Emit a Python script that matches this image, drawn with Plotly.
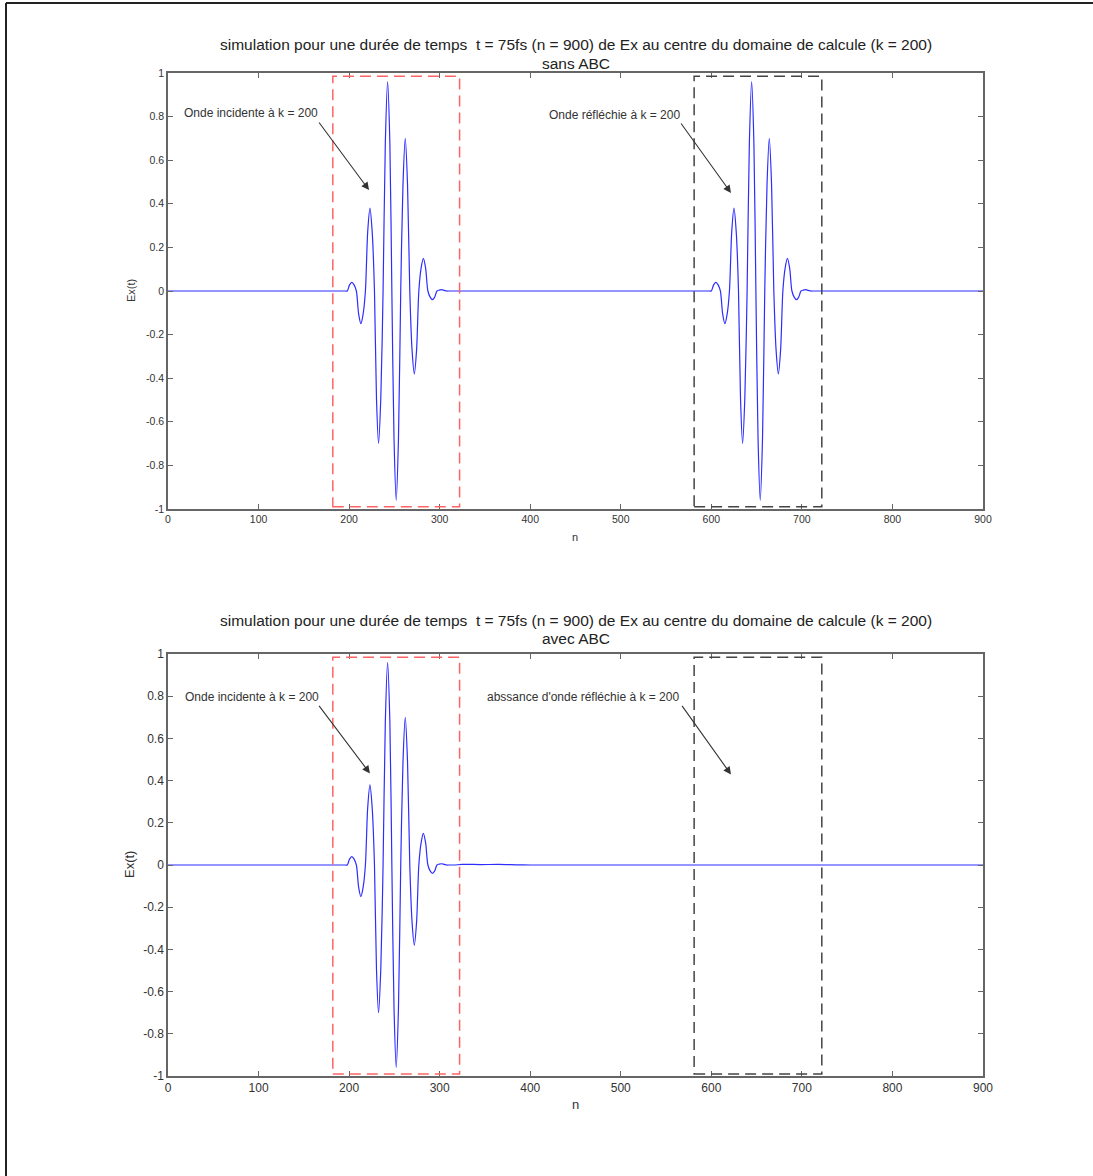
import plotly.graph_objects as go

W, H = 1093, 1176

# ---- data -------------------------------------------------------------
# incident pulse seen at k = 200 (same in both runs)
inc_n = [190, 196, 198, 200.5, 203, 205.5, 208, 210.5, 213, 215.5, 218, 220.5, 223, 225.5,
         228, 230.2, 232.5, 235, 237.5, 240, 242.5, 245, 247.2, 249.6, 252, 254.5,
         257, 259.5, 262, 264.5, 267, 269.5, 272, 274.5, 277, 279.5, 282, 284.5,
         287, 289.5, 292, 294.5, 297, 299.5, 302, 305, 308, 311, 316]
inc_ex = [0, 0, 0, 0.028, 0.04, 0.028, 0, -0.105, -0.15, -0.105, 0, 0.27, 0.38, 0.27,
          0, -0.49, -0.70, -0.49, 0, 0.68, 0.96, 0.68, 0, -0.68, -0.96, -0.68,
          0, 0.49, 0.70, 0.49, 0, -0.27, -0.38, -0.27, 0, 0.105, 0.15, 0.105,
          0, -0.028, -0.04, -0.028, 0, 0.004, 0.006, 0.003, 0, 0, 0]

# pulse reflected back from the grid edge (run without ABC)
refl_n = [592, 598, 600, 602.5, 605, 607.5, 610, 612.5, 615, 617.5, 620, 622.5, 625, 627.5,
          630, 632.2, 634.5, 637, 639.5, 642, 644.5, 647, 649.2, 651.6, 654, 656.5,
          659, 661.5, 664, 666.5, 669, 671.5, 674, 676.5, 679, 681.5, 684, 686.5,
          689, 691.5, 694, 696.5, 699, 701.5, 704, 707, 710, 713, 718]
refl_ex = [0, 0, 0, 0.028, 0.04, 0.028, 0, -0.105, -0.15, -0.105, 0, 0.27, 0.38, 0.27,
           0, -0.49, -0.70, -0.49, 0, 0.68, 0.96, 0.68, 0, -0.68, -0.96, -0.68,
           0, 0.49, 0.70, 0.49, 0, -0.27, -0.38, -0.27, 0, 0.105, 0.15, 0.105,
           0, -0.028, -0.04, -0.028, 0, 0.004, 0.006, 0.003, 0, 0, 0]

# small residue left behind with the absorbing boundary
res_n = [325, 345, 365, 385, 400, 410]
res_ex = [0.003, 0.002, 0.003, 0.001, 0, 0]

n_sans = [0] + inc_n + refl_n + [900]
ex_sans = [0] + inc_ex + refl_ex + [0]
n_avec = [0] + inc_n + res_n + [900]
ex_avec = [0] + inc_ex + res_ex + [0]

x_ticks = [0, 100, 200, 300, 400, 500, 600, 700, 800, 900]
y_ticks = [-1, -0.8, -0.6, -0.4, -0.2, 0, 0.2, 0.4, 0.6, 0.8, 1]
y_ticktext = ["-1", "-0.8", "-0.6", "-0.4", "-0.2", "0", "0.2", "0.4", "0.6", "0.8", "1"]

title_main = ("simulation pour une durée de temps  t = 75fs (n = 900) de Ex au "
              "centre du domaine de calcule (k = 200)")
subtitles = ["sans ABC", "avec ABC"]
label_inc = "Onde incidente à k = 200"
label_refl = ["Onde réfléchie à k = 200", "abssance d'onde réfléchie à k = 200"]

# ---- figure -----------------------------------------------------------
FONT = "Liberation Sans, Arial, sans-serif"
BLUE = "rgb(45,45,255)"
AXC = "#666666"


def px(x):
    return x / W


def py(y):
    return 1 - y / H


fig = go.Figure()
fig.add_trace(go.Scatter(x=n_sans, y=ex_sans, mode="lines", xaxis="x", yaxis="y",
                         line=dict(color=BLUE, width=1.2, shape="spline", smoothing=0.8),
                         showlegend=False))
fig.add_trace(go.Scatter(x=n_avec, y=ex_avec, mode="lines", xaxis="x2", yaxis="y2",
                         line=dict(color=BLUE, width=1.2, shape="spline", smoothing=0.8),
                         showlegend=False))

panels = [
    dict(top=73, bot=509, tick=10.5, lab=11),
    dict(top=654, bot=1076, tick=12, lab=13),
]

axis_common = dict(showline=True, linecolor=AXC, linewidth=1.5, mirror="allticks",
                   ticks="inside", ticklen=5, tickcolor=AXC, tickwidth=1,
                   showgrid=False, zeroline=False, automargin=False)

xdom = [px(168), px(983)]
layout = dict(
    template="none",
    width=W, height=H, autosize=False, margin=dict(l=0, r=0, t=0, b=0, pad=0),
    paper_bgcolor="white", plot_bgcolor="white",
    font=dict(family=FONT, color="#333333"),
    showlegend=False,
)
for i, p in enumerate(panels):
    sx = "" if i == 0 else "2"
    layout["xaxis" + sx] = dict(axis_common, domain=xdom, range=[0, 900],
                                tickvals=x_ticks, ticktext=[str(v) for v in x_ticks],
                                tickfont=dict(size=p["tick"], color="#333333"),
                                anchor="y" + sx)
    layout["yaxis" + sx] = dict(axis_common, domain=[py(p["bot"]), py(p["top"])],
                                range=[-1, 1], tickvals=y_ticks, ticktext=y_ticktext,
                                tickfont=dict(size=p["tick"], color="#333333"),
                                anchor="x" + sx)
fig.update_layout(**layout)

annotations = []
shapes = []

# outer frame of the page (top and left edges)
shapes.append(dict(type="line", xref="paper", yref="paper", x0=px(6), x1=1,
                   y0=py(3), y1=py(3), line=dict(color="#222222", width=2)))
shapes.append(dict(type="line", xref="paper", yref="paper", x0=px(6), x1=px(6),
                   y0=0, y1=py(3), line=dict(color="#222222", width=2)))

title_y = [(45, 63), (620, 638)]
xlabel_y = [537, 1104]
ylabel_x = [131, 129]
arrow_geo = [
    dict(t1=(15.5, 0.817), a1=((165.6, 0.78), (222, 0.463)),
         t2=(418.5, 0.807), a2=((565.4, 0.775), (621.7, 0.45))),
    dict(t1=(16.6, 0.794), a1=((165.6, 0.761), (223, 0.434)),
         t2=(350, 0.794), a2=((566.5, 0.761), (621.7, 0.429))),
]

for i, p in enumerate(panels):
    sx = "" if i == 0 else "2"
    xr, yr = "x" + sx, "y" + sx
    mid = (p["top"] + p["bot"]) / 2
    # titles
    annotations.append(dict(xref="paper", yref="paper", x=px(575.5), y=py(title_y[i][0]),
                            text=title_main, showarrow=False, xanchor="center",
                            yanchor="middle", font=dict(size=15.5, color="#222222")))
    annotations.append(dict(xref="paper", yref="paper", x=px(575.5), y=py(title_y[i][1]),
                            text=subtitles[i], showarrow=False, xanchor="center",
                            yanchor="middle", font=dict(size=15.5, color="#222222")))
    # axis labels
    annotations.append(dict(xref="paper", yref="paper", x=px(575), y=py(xlabel_y[i]),
                            text="n", showarrow=False, xanchor="center", yanchor="middle",
                            font=dict(size=p["lab"], color="#333333")))
    annotations.append(dict(xref="paper", yref="paper", x=px(ylabel_x[i]), y=py(mid),
                            text="Ex(t)", showarrow=False, textangle=-90,
                            xanchor="center", yanchor="middle",
                            font=dict(size=p["lab"], color="#333333")))
    # dashed boxes around the incident / reflected windows
    shapes.append(dict(type="rect", xref=xr, yref=yr, x0=182, x1=322, y0=-0.99, y1=0.985,
                       line=dict(color="rgb(255,100,100)", width=1.5, dash="11px,6px")))
    shapes.append(dict(type="rect", xref=xr, yref=yr, x0=581, x1=722, y0=-0.99, y1=0.985,
                       line=dict(color="#444444", width=1.5, dash="11px,6px")))
    # callouts
    g = arrow_geo[i]
    for txt, tpos, arr in [(label_inc, g["t1"], g["a1"]), (label_refl[i], g["t2"], g["a2"])]:
        annotations.append(dict(xref=xr, yref=yr, x=tpos[0], y=tpos[1], text=txt,
                                showarrow=False, xanchor="left", yanchor="middle",
                                font=dict(size=12, color="#333333")))
        (tx, ty), (hx, hy) = arr
        annotations.append(dict(xref=xr, yref=yr, x=hx, y=hy, ax=tx, ay=ty,
                                axref=xr, ayref=yr, text="", showarrow=True,
                                arrowhead=2, arrowsize=1.4, arrowwidth=1.1,
                                arrowcolor="#333333"))

fig.update_layout(annotations=annotations, shapes=shapes)
fig.write_html("out.html")
